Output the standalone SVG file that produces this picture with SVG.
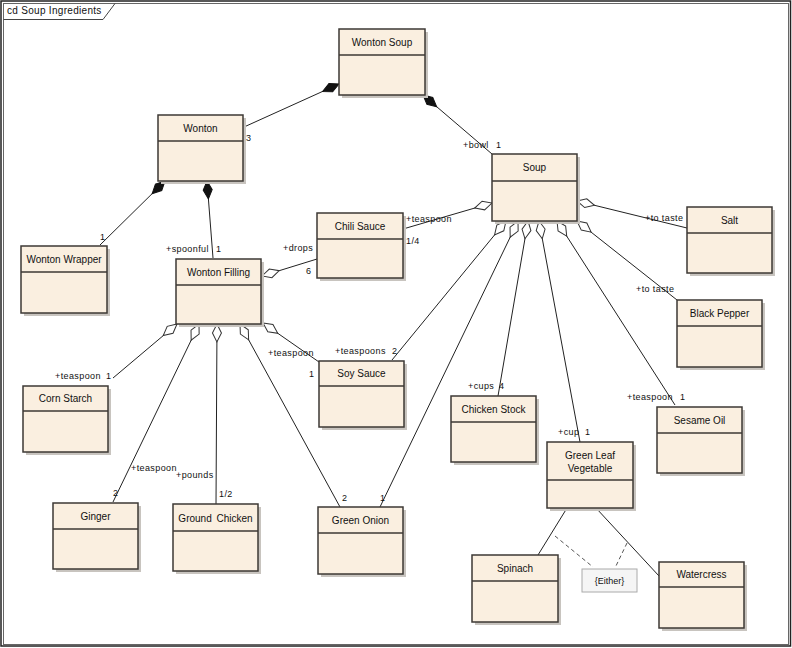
<svg xmlns="http://www.w3.org/2000/svg" width="792" height="648" viewBox="0 0 792 648">
<defs>
<style>
.sh{fill:#c8c4bf;stroke:none}
.bx{fill:#faefe0;stroke:#3d3935;stroke-width:1.5}
.dv{stroke:#3d3935;stroke-width:1.5}
.nm{font-family:"Liberation Sans",Arial,sans-serif;font-size:10px;fill:#111;text-anchor:middle}
.lb{font-family:"Liberation Sans",Arial,sans-serif;font-size:9px;fill:#111;letter-spacing:0.4px}
.cn{fill:none;stroke:#222;stroke-width:1}
.comp{marker-start:url(#fd)}
.agg{marker-start:url(#hd)}
.dash{fill:none;stroke:#555;stroke-width:1;stroke-dasharray:4,3}
</style>
<marker id="fd" markerUnits="userSpaceOnUse" markerWidth="20" markerHeight="12" refX="0" refY="5" orient="auto" viewBox="0 0 20 10" overflow="visible">
<path d="M0,5 L9,0.5 L18,5 L9,9.5 Z" fill="#111" stroke="#111" stroke-width="1"/>
</marker>
<marker id="hd" markerUnits="userSpaceOnUse" markerWidth="20" markerHeight="12" refX="0" refY="5" orient="auto" viewBox="0 0 20 10" overflow="visible">
<path d="M0,5 L9,0.5 L18,5 L9,9.5 Z" fill="#ffffff" stroke="#333" stroke-width="1"/>
</marker>
</defs>
<rect x="0" y="0" width="792" height="648" fill="#ffffff"/>
<rect x="1" y="1" width="789.5" height="645" fill="none" stroke="#222" stroke-width="1.5"/>
<rect x="3.5" y="3.5" width="785" height="641" fill="none" stroke="#666" stroke-width="1"/>
<g id="frame-tab">
<path d="M3.5,19.5 L103,19.5 L115,3.5" fill="none" stroke="#444" stroke-width="1"/>
<text x="7" y="14" class="lb" style="font-size:10px;letter-spacing:0.3px">cd Soup Ingredients</text>
</g>

<g id="connectors">
<path class="cn comp" d="M339,84 L244,127"/>
<path class="cn comp" d="M423,95 L492,154"/>
<path class="cn comp" d="M165,181 L100,245"/>
<path class="cn comp" d="M207,181 L213,258"/>
<path class="cn agg" d="M262,276 L317,259"/>
<path class="cn agg" d="M492,203 L403,229"/>
<path class="cn agg" d="M577,201 L687,228"/>
<path class="cn agg" d="M177,324 L113,378"/>
<path class="cn agg" d="M199,324 L113,502"/>
<path class="cn agg" d="M217,324 L216,504"/>
<path class="cn agg" d="M240,324 L340,507"/>
<path class="cn agg" d="M263,323 L319,362"/>
<path class="cn agg" d="M506,221 L392,360"/>
<path class="cn agg" d="M518,221 L380,507"/>
<path class="cn agg" d="M528,221 L498,396"/>
<path class="cn agg" d="M539,221 L580,442"/>
<path class="cn agg" d="M557,221 L675,405"/>
<path class="cn agg" d="M577,221 L677,300"/>
<path class="cn" d="M567,508 L538,555"/>
<path class="cn" d="M596,508 L659,576"/>
<path class="dash" d="M555,536 L593,567"/>
<path class="dash" d="M627,543 L615,568"/>
</g>

<g id="labels">
<text class="lb" x="246" y="141">3</text>
<text class="lb" x="463" y="148">+bowl</text><text class="lb" x="496" y="148">1</text>
<text class="lb" x="100" y="240">1</text>
<text class="lb" x="166" y="252">+spoonful</text><text class="lb" x="216" y="252">1</text>
<text class="lb" x="283" y="251">+drops</text><text class="lb" x="306" y="274">6</text>
<text class="lb" x="406" y="222">+teaspoon</text><text class="lb" x="406" y="244">1/4</text>
<text class="lb" x="645" y="221">+to taste</text>
<text class="lb" x="55" y="379">+teaspoon</text><text class="lb" x="106" y="379">1</text>
<text class="lb" x="268" y="356">+teaspoon</text><text class="lb" x="309" y="377">1</text>
<text class="lb" x="335" y="354">+teaspoons</text><text class="lb" x="392" y="354">2</text>
<text class="lb" x="468" y="389">+cups</text><text class="lb" x="499" y="389">4</text>
<text class="lb" x="558" y="435">+cup</text><text class="lb" x="585" y="435">1</text>
<text class="lb" x="627" y="400">+teaspoon</text><text class="lb" x="680" y="400">1</text>
<text class="lb" x="636" y="292">+to taste</text>
<text class="lb" x="131" y="471">+teaspoon</text><text class="lb" x="113" y="496">2</text>
<text class="lb" x="176" y="478">+pounds</text><text class="lb" x="219" y="497">1/2</text>
<text class="lb" x="342" y="501">2</text><text class="lb" x="380" y="501">1</text>
</g>

<g id="wonton-soup"><rect class="sh" x="342" y="32" width="86" height="66"/><rect class="bx" x="339" y="29" width="86" height="66"/><line class="dv" x1="339" y1="55" x2="425" y2="55"/><text class="nm" x="382" y="46">Wonton Soup</text></g>
<g id="wonton"><rect class="sh" x="161" y="118" width="85" height="66"/><rect class="bx" x="158" y="115" width="85" height="66"/><line class="dv" x1="158" y1="141" x2="243" y2="141"/><text class="nm" x="200.5" y="132">Wonton</text></g>
<g id="soup"><rect class="sh" x="495" y="157" width="85" height="67"/><rect class="bx" x="492" y="154" width="85" height="67"/><line class="dv" x1="492" y1="181" x2="577" y2="181"/><text class="nm" x="534.5" y="171">Soup</text></g>
<g id="salt"><rect class="sh" x="690" y="210" width="85" height="66"/><rect class="bx" x="687" y="207" width="85" height="66"/><line class="dv" x1="687" y1="233" x2="772" y2="233"/><text class="nm" x="729.5" y="224">Salt</text></g>
<g id="wonton-wrapper"><rect class="sh" x="24" y="249" width="86" height="67"/><rect class="bx" x="21" y="246" width="86" height="67"/><line class="dv" x1="21" y1="272" x2="107" y2="272"/><text class="nm" x="64" y="263">Wonton Wrapper</text></g>
<g id="wonton-filling"><rect class="sh" x="179" y="262" width="85" height="65"/><rect class="bx" x="176" y="259" width="85" height="65"/><line class="dv" x1="176" y1="285" x2="261" y2="285"/><text class="nm" x="218.5" y="276">Wonton Filling</text></g>
<g id="chili-sauce"><rect class="sh" x="320" y="216" width="86" height="65"/><rect class="bx" x="317" y="213" width="86" height="65"/><line class="dv" x1="317" y1="239" x2="403" y2="239"/><text class="nm" x="360" y="230">Chili Sauce</text></g>
<g id="corn-starch"><rect class="sh" x="26" y="389" width="85" height="66"/><rect class="bx" x="23" y="386" width="85" height="66"/><line class="dv" x1="23" y1="411" x2="108" y2="411"/><text class="nm" x="65.5" y="402">Corn Starch</text></g>
<g id="black-pepper"><rect class="sh" x="680" y="303" width="85" height="67"/><rect class="bx" x="677" y="300" width="85" height="67"/><line class="dv" x1="677" y1="326" x2="762" y2="326"/><text class="nm" x="719.5" y="317">Black Pepper</text></g>
<g id="soy-sauce"><rect class="sh" x="322" y="364" width="85" height="66"/><rect class="bx" x="319" y="361" width="85" height="66"/><line class="dv" x1="319" y1="386" x2="404" y2="386"/><text class="nm" x="361.5" y="377">Soy Sauce</text></g>
<g id="chicken-stock"><rect class="sh" x="454" y="399" width="85" height="66"/><rect class="bx" x="451" y="396" width="85" height="66"/><line class="dv" x1="451" y1="422" x2="536" y2="422"/><text class="nm" x="493.5" y="413">Chicken Stock</text></g>
<g id="sesame-oil"><rect class="sh" x="660" y="410" width="85" height="66"/><rect class="bx" x="657" y="407" width="85" height="66"/><line class="dv" x1="657" y1="433" x2="742" y2="433"/><text class="nm" x="699.5" y="424">Sesame Oil</text></g>
<g id="green-leaf-vegetable"><rect class="sh" x="550" y="445" width="86" height="66"/><rect class="bx" x="547" y="442" width="86" height="66"/><line class="dv" x1="547" y1="480" x2="633" y2="480"/><text class="nm" x="590" y="459">Green Leaf</text><text class="nm" x="590" y="472">Vegetable</text></g>
<g id="ginger"><rect class="sh" x="56" y="506" width="85" height="66"/><rect class="bx" x="53" y="503" width="85" height="66"/><line class="dv" x1="53" y1="529" x2="138" y2="529"/><text class="nm" x="95.5" y="520">Ginger</text></g>
<g id="ground-chicken"><rect class="sh" x="176" y="507" width="85" height="67"/><rect class="bx" x="173" y="504" width="85" height="67"/><line class="dv" x1="173" y1="531" x2="258" y2="531"/><text class="nm" x="215.5" y="522" style="word-spacing:2px">Ground Chicken</text></g>
<g id="green-onion"><rect class="sh" x="321" y="510" width="85" height="67"/><rect class="bx" x="318" y="507" width="85" height="67"/><line class="dv" x1="318" y1="533" x2="403" y2="533"/><text class="nm" x="360.5" y="524">Green Onion</text></g>
<g id="spinach"><rect class="sh" x="475" y="558" width="86" height="67"/><rect class="bx" x="472" y="555" width="86" height="67"/><line class="dv" x1="472" y1="581" x2="558" y2="581"/><text class="nm" x="515" y="572">Spinach</text></g>
<g id="watercress"><rect class="sh" x="662" y="565" width="85" height="66"/><rect class="bx" x="659" y="562" width="85" height="66"/><line class="dv" x1="659" y1="587" x2="744" y2="587"/><text class="nm" x="701.5" y="578">Watercress</text></g>
<g id="either"><rect x="582" y="569" width="55" height="23" fill="#f5f5f5" stroke="#aaa" stroke-width="1"/><text class="nm" x="609.5" y="584" style="font-size:9px">{Either}</text></g>
</svg>
